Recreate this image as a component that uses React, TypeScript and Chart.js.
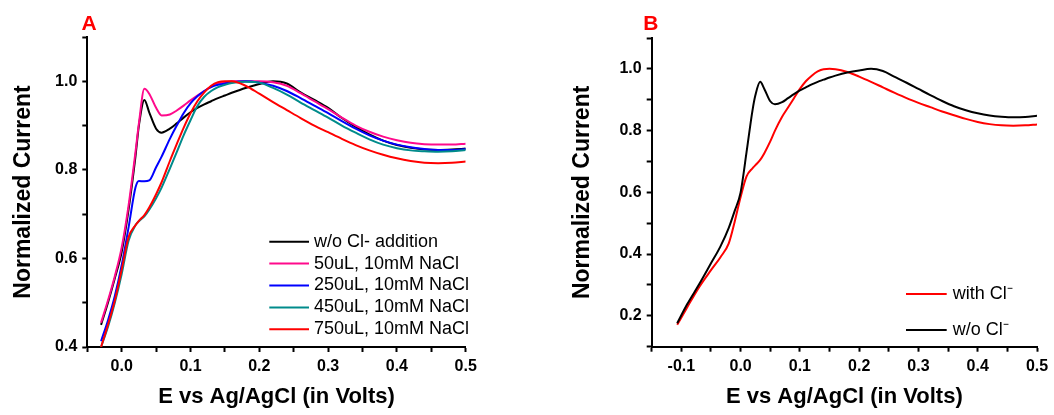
import React, { useEffect, useRef } from "react";
import { Chart, registerables } from "chart.js";

Chart.register(...registerables);

const FONT = '"Liberation Sans", Arial, Helvetica, sans-serif';

// ---------------- Panel A data ----------------
const xA = [-0.03, -0.02, -0.01, 0, 0.01, 0.02, 0.025, 0.033, 0.04, 0.05, 0.058, 0.07, 0.08, 0.09, 0.1, 0.11, 0.12, 0.13, 0.14, 0.15, 0.16, 0.18, 0.2, 0.22, 0.24, 0.26, 0.28, 0.3, 0.32, 0.34, 0.36, 0.38, 0.4, 0.42, 0.44, 0.46, 0.48, 0.5];
const blackA = [0.45, 0.5, 0.555, 0.615, 0.71, 0.83, 0.9, 0.958, 0.93, 0.893, 0.884, 0.893, 0.905, 0.918, 0.93, 0.94, 0.948, 0.955, 0.962, 0.968, 0.974, 0.985, 0.994, 1.0, 0.995, 0.975, 0.958, 0.94, 0.917, 0.897, 0.88, 0.866, 0.856, 0.85, 0.846, 0.845, 0.846, 0.848];
const pinkA = [0.455, 0.505, 0.56, 0.625, 0.72, 0.84, 0.905, 0.983, 0.972, 0.94, 0.923, 0.925, 0.934, 0.945, 0.957, 0.968, 0.978, 0.988, 0.995, 0.998, 1.0, 1.0, 1.0, 0.998, 0.99, 0.973, 0.955, 0.937, 0.918, 0.9, 0.886, 0.875, 0.867, 0.861, 0.858, 0.857, 0.857, 0.859];
const blueA = [0.413, 0.46, 0.515, 0.585, 0.67, 0.76, 0.775, 0.774, 0.776, 0.806, 0.83, 0.87, 0.9, 0.928, 0.95, 0.966, 0.978, 0.987, 0.992, 0.995, 0.998, 1.0, 0.997, 0.99, 0.978, 0.962, 0.945, 0.928, 0.91, 0.893, 0.878, 0.866, 0.857, 0.851, 0.847, 0.845, 0.845, 0.847];
const tealA = [0.4, 0.445, 0.5, 0.565, 0.64, 0.675, 0.684, 0.695, 0.71, 0.736, 0.76, 0.803, 0.84, 0.878, 0.912, 0.944, 0.965, 0.978, 0.987, 0.992, 0.996, 0.999, 0.997, 0.985, 0.97, 0.952, 0.935, 0.918, 0.9, 0.884, 0.869, 0.857, 0.849, 0.844, 0.842, 0.841, 0.842, 0.845];
const redA = [0.4, 0.45, 0.505, 0.575, 0.648, 0.675, 0.685, 0.698, 0.715, 0.745, 0.772, 0.82, 0.858, 0.895, 0.928, 0.955, 0.975, 0.99, 0.998, 1.0, 1.0, 0.99, 0.972, 0.953, 0.935, 0.917, 0.9, 0.885, 0.87, 0.856, 0.844, 0.834, 0.826, 0.82, 0.816, 0.815, 0.816, 0.819];
const labelsA = ["w/o Cl- addition", "50uL, 10mM NaCl", "250uL, 10mM NaCl", "450uL, 10mM NaCl", "750uL, 10mM NaCl"];
const colorsA = ["#000000", "#ff0a8c", "#0000ff", "#008b8b", "#ff0000"];

// ---------------- Panel B data ----------------
const xB = [-0.107, -0.09, -0.07, -0.05, -0.034, -0.02, -0.01, 0, 0.01, 0.02, 0.025, 0.033, 0.04, 0.05, 0.058, 0.07, 0.08, 0.09, 0.1, 0.11, 0.12, 0.13, 0.14, 0.15, 0.16, 0.18, 0.2, 0.22, 0.24, 0.26, 0.28, 0.3, 0.32, 0.34, 0.36, 0.38, 0.4, 0.42, 0.44, 0.46, 0.48, 0.5];
const redB = [0.171, 0.228, 0.293, 0.348, 0.39, 0.435, 0.505, 0.585, 0.652, 0.678, 0.688, 0.705, 0.727, 0.765, 0.8, 0.845, 0.875, 0.905, 0.935, 0.96, 0.978, 0.992, 0.999, 1.0, 0.999, 0.99, 0.975, 0.958, 0.94, 0.922, 0.905, 0.89, 0.876, 0.862, 0.85, 0.838, 0.828, 0.821, 0.817, 0.816, 0.817, 0.82];
const blackB = [0.176, 0.238, 0.302, 0.37, 0.425, 0.485, 0.54, 0.6, 0.73, 0.865, 0.915, 0.958, 0.935, 0.895, 0.885, 0.892, 0.905, 0.918, 0.93, 0.94, 0.95, 0.958, 0.965, 0.972, 0.978, 0.988, 0.995, 1.0, 0.993, 0.974, 0.955, 0.935, 0.915, 0.896, 0.879, 0.866, 0.856, 0.849, 0.845, 0.843, 0.844, 0.848];
const labelsB = ["with Cl\u207B", "w/o Cl\u207B"];
const colorsB = ["#ff0000", "#000000"];

const xTitle = "E vs Ag/AgCl (in Volts)";
const yTitle = "Normalized Current";

const pts = (xs: number[], ys: number[]) => xs.map((x, i) => ({ x, y: ys[i] }));

const fmt = (every: number) => (v: number | string) => {
  const n = Number(v);
  const t = Math.round(n * 10);
  if (Math.abs(n * 10 - t) > 1e-6) return "";
  if (t % every !== 0) return "";
  return (t / 10).toFixed(1);
};

const overlay = {
  id: "overlay",
  afterDraw(chart: any, _args: any, opts: any) {
    const ctx = chart.ctx;
    ctx.save();
    ctx.fillStyle = "#ff0000";
    ctx.font = `bold 21px ${FONT}`;
    ctx.textAlign = "left";
    ctx.textBaseline = "alphabetic";
    ctx.fillText(opts.letter, opts.letterX, opts.letterY);
    ctx.font = `18px ${FONT}`;
    ctx.textBaseline = "middle";
    chart.data.datasets.forEach((ds: any, i: number) => {
      const y = opts.legendY + i * opts.legendGap;
      ctx.strokeStyle = ds.borderColor;
      ctx.lineWidth = 2;
      ctx.beginPath();
      ctx.moveTo(opts.lineX0, y);
      ctx.lineTo(opts.lineX1, y);
      ctx.stroke();
      ctx.fillStyle = "#000";
      ctx.fillText(ds.label, opts.textX, y);
    });
    ctx.restore();
  },
};

function axis(min: number, max: number, step: number, every: number, title: string, isX: boolean, fitSize: number, titlePad: any) {
  return {
    type: "linear",
    min,
    max,
    border: { display: true, color: "#000", width: 2 },
    grid: { display: true, drawOnChartArea: false, drawTicks: true, tickLength: 5, tickColor: "#000", tickWidth: 2 },
    ticks: {
      stepSize: step,
      autoSkip: false,
      maxRotation: 0,
      padding: 5,
      color: "#000",
      font: { family: FONT, size: 16, weight: "bold" },
      callback: fmt(every),
    },
    title: {
      display: true,
      text: title,
      color: "#000",
      font: { family: FONT, size: isX ? 22 : 23, weight: "bold" },
      padding: titlePad,
    },
    afterFit: (s: any) => {
      if (isX) s.height = fitSize;
      else s.width = fitSize;
    },
  };
}

function makeConfig(panel: "A" | "B") {
  const isA = panel === "A";
  const datasets = isA
    ? [blackA, pinkA, blueA, tealA, redA].map((ys, i) => ({
        label: labelsA[i],
        data: pts(xA, ys),
        borderColor: colorsA[i],
        backgroundColor: colorsA[i],
        borderWidth: 2,
        pointRadius: 0,
        showLine: true,
        fill: false,
        cubicInterpolationMode: "monotone",
        order: 5 - i,
      }))
    : [redB, blackB].map((ys, i) => ({
        label: labelsB[i],
        data: pts(xB, ys),
        borderColor: colorsB[i],
        backgroundColor: colorsB[i],
        borderWidth: 2,
        pointRadius: 0,
        showLine: true,
        fill: false,
        cubicInterpolationMode: "monotone",
        order: 2 - i,
      }));
  return {
    type: "scatter",
    data: { datasets },
    plugins: [overlay],
    options: {
      animation: false,
      responsive: false,
      devicePixelRatio: 1,
      layout: {
        padding: isA
          ? { left: 0, top: 37, right: 64.3, bottom: 0 }
          : { left: 29.2, top: 38, right: 17, bottom: 0 },
      },
      scales: {
        x: isA
          ? axis(-0.05, 0.5, 0.05, 1, xTitle, true, 68, { top: 0, bottom: 5 })
          : axis(-0.15, 0.5, 0.05, 1, xTitle, true, 68.3, { top: 0, bottom: 5 }),
        y: isA
          ? axis(0.4, 1.1, 0.1, 2, yTitle, false, 87.3, { top: 9.5, bottom: 0 })
          : axis(0.1, 1.1, 0.1, 2, yTitle, false, 92.5, { top: 9.5, bottom: 0 }),
      },
      plugins: {
        legend: { display: false },
        tooltip: { enabled: false },
        overlay: isA
          ? { letter: "A", letterX: 81.5, letterY: 29.5, legendY: 241.7, legendGap: 21.9, lineX0: 269.3, lineX1: 309, textX: 314 }
          : { letter: "B", letterX: 113.3, letterY: 29.5, legendY: 294, legendGap: 36, lineX0: 376, lineX1: 416.7, textX: 422.7 },
      },
    },
  };
}

function Panel({ panel, left, width }: { panel: "A" | "B"; left: number; width: number }) {
  const ref = useRef<HTMLCanvasElement | null>(null);
  useEffect(() => {
    if (!ref.current) return;
    const chart = new Chart(ref.current, makeConfig(panel) as any);
    return () => chart.destroy();
  }, [panel]);
  return (
    <canvas
      ref={ref}
      width={width}
      height={415}
      style={{ position: "absolute", left, top: 0, width, height: 415, display: "block" }}
    />
  );
}

export default function App() {
  return (
    <div style={{ position: "absolute", left: 0, top: 0, width: 1054, height: 415, background: "#fff" }}>
      <Panel panel="A" left={0} width={530} />
      <Panel panel="B" left={530} width={524} />
    </div>
  );
}
